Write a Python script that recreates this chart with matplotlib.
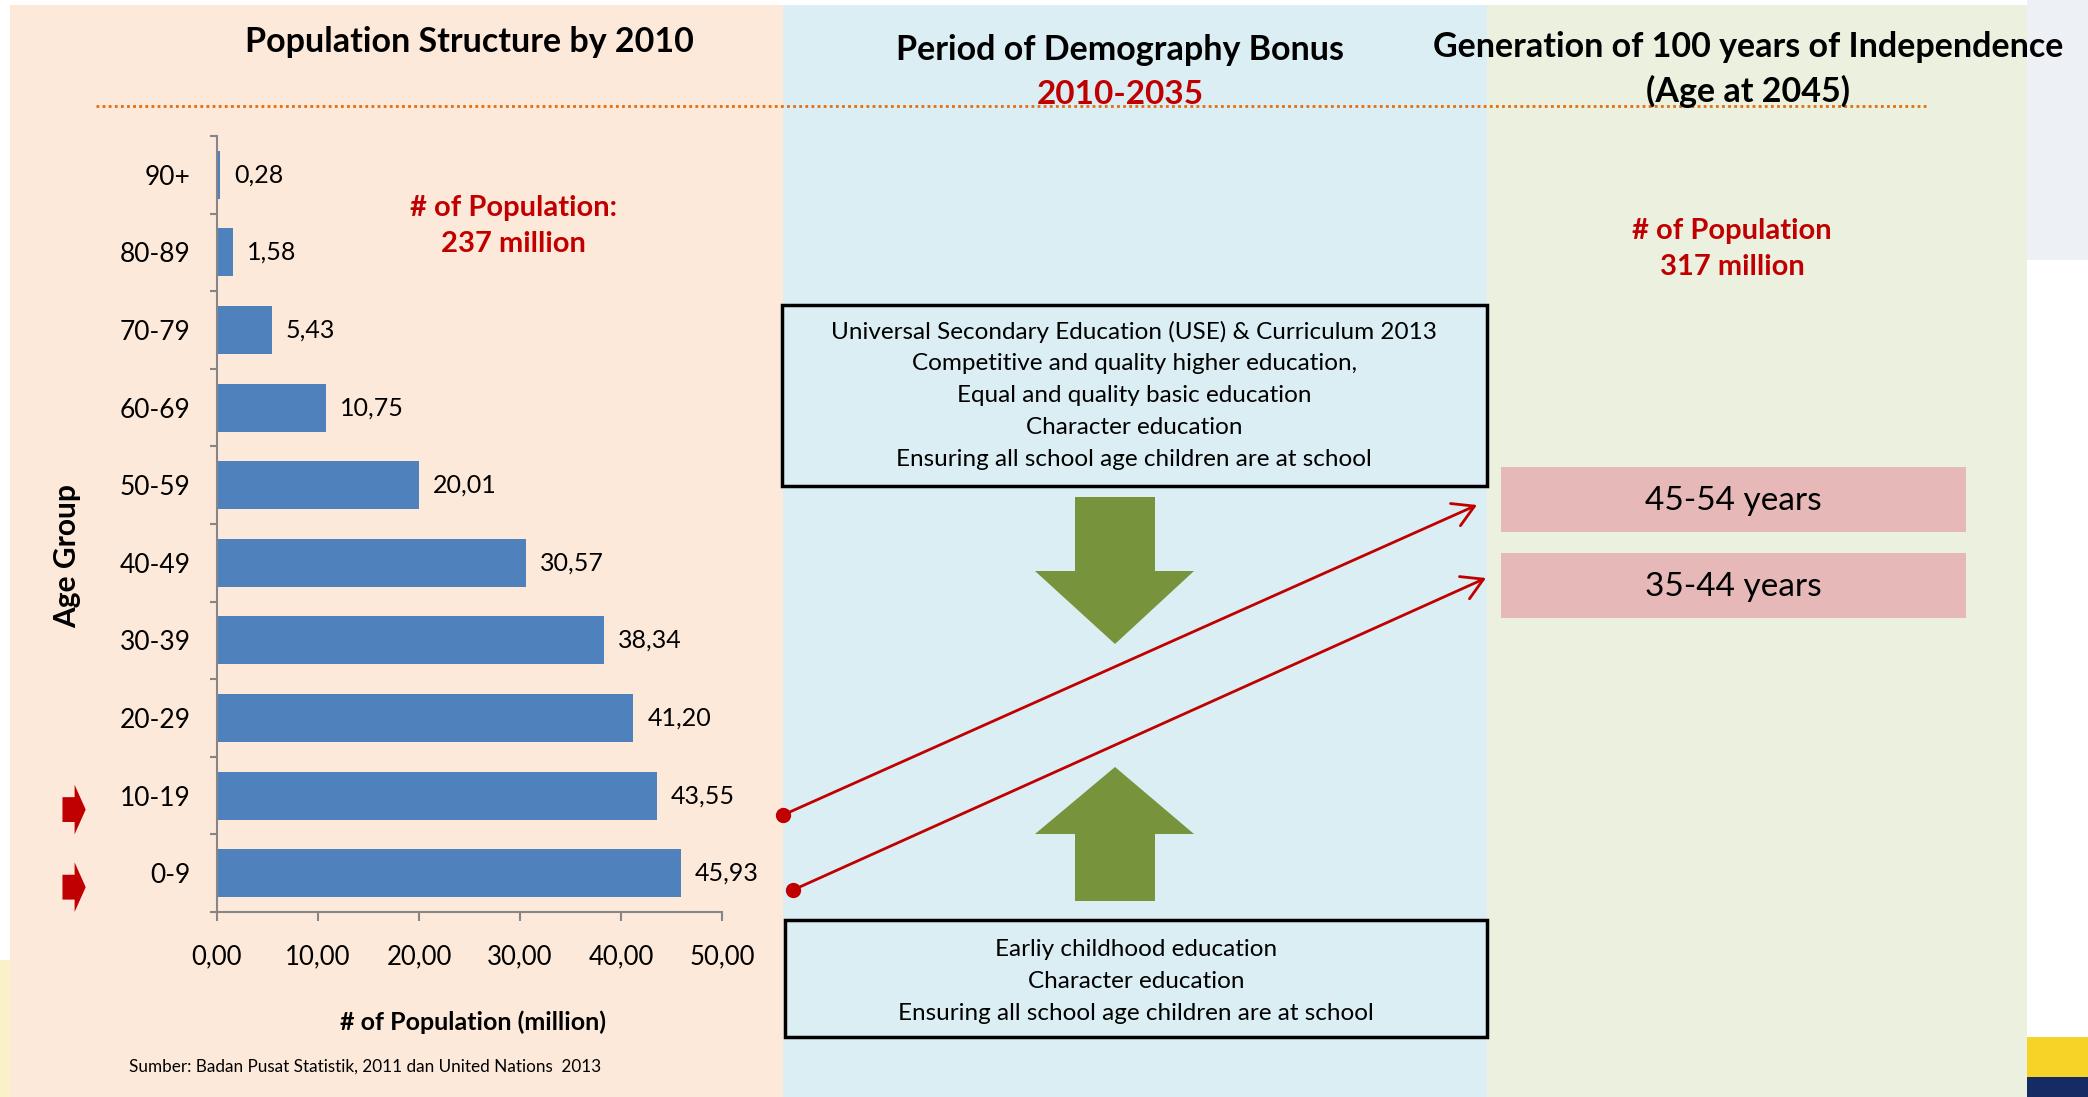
import numpy as np
import matplotlib.pyplot as plt
from matplotlib.patches import Rectangle, Polygon
from matplotlib.ticker import FuncFormatter

plt.rcParams['font.family'] = ['Lato', 'DejaVu Sans']

# data
age_groups = ['0-9', '10-19', '20-29', '30-39', '40-49', '50-59', '60-69', '70-79', '80-89', '90+']
population = [45.93, 43.55, 41.20, 38.34, 30.57, 20.01, 10.75, 5.43, 1.58, 0.28]
x_ticks = [0, 10, 20, 30, 40, 50]
highlight_groups = ['10-19', '0-9']
future_groups = ['45-54 years', '35-44 years']

upper_box_lines = ['Universal Secondary Education (USE) & Curriculum 2013',
                   'Competitive and quality higher education,',
                   'Equal and quality basic education',
                   'Character education',
                   'Ensuring all school age children are at school']
lower_box_lines = ['Earliy childhood education',
                   'Character education',
                   'Ensuring all school age children are at school']

W, H = 2088, 1097
RED = '#C00000'
GREEN = '#77933C'

fig = plt.figure(figsize=(W / 100, H / 100), dpi=100)

# background layer in pixel coords (y down)
bg = fig.add_axes([0, 0, 1, 1])
bg.set_xlim(0, W)
bg.set_ylim(H, 0)
bg.axis('off')

# side decoration
bg.add_patch(Rectangle((2027, 0), 61, 260, color='#EDF0F5', lw=0))
bg.add_patch(Rectangle((2027, 1037), 61, 40, color='#F5D327', lw=0))
bg.add_patch(Rectangle((2027, 1077), 61, 20, color='#162B63', lw=0))
bg.add_patch(Rectangle((0, 960), 10, 137, color='#FBF1C8', lw=0))

# three panels
bg.add_patch(Rectangle((10, 5), 773, 1092, color='#FDE9DA', lw=0))
bg.add_patch(Rectangle((783, 5), 704, 1092, color='#DBEEF3', lw=0))
bg.add_patch(Rectangle((1487, 5), 540, 1092, color='#EBF0DF', lw=0))

# dotted separator
bg.plot([96, 1928], [106, 106], ls=(0, (1, 1.2)), color='#E46C0A', lw=2)

# titles
bg.text(469, 42, 'Population Structure by 2010', ha='center', va='center',
        fontsize=24.5, fontweight='bold')
bg.text(1120, 50, 'Period of Demography Bonus', ha='center', va='center',
        fontsize=24.5, fontweight='bold')
bg.text(1120, 94, '2010-2035', ha='center', va='center',
        fontsize=24, fontweight='bold', color=RED)
bg.text(1748, 47, 'Generation of 100 years of Independence', ha='center', va='center',
        fontsize=24.5, fontweight='bold')
bg.text(1748, 91, '(Age at 2045)', ha='center', va='center',
        fontsize=24.5, fontweight='bold')

# totals
bg.text(513, 226, '# of Population:\n237 million', ha='center', va='center',
        fontsize=21, fontweight='bold', color=RED, linespacing=1.45)
bg.text(1732, 249, '# of Population\n317 million', ha='center', va='center',
        fontsize=21, fontweight='bold', color=RED, linespacing=1.45)

# education boxes
bg.add_patch(Rectangle((782, 305), 705, 181, fill=False, ec='black', lw=2.5))
for i, line in enumerate(upper_box_lines):
    bg.text(1134, 332 + 32 * i, line, ha='center', va='center', fontsize=17.5)
bg.add_patch(Rectangle((785, 920), 702, 117, fill=False, ec='black', lw=2.5))
for i, line in enumerate(lower_box_lines):
    bg.text(1136, 949 + 32 * i, line, ha='center', va='center', fontsize=17.5)

# green arrows
bg.add_patch(Polygon([(1075, 497), (1155, 497), (1155, 571), (1194, 571), (1115, 644),
                      (1035, 571), (1075, 571)], closed=True, color=GREEN, lw=0))
bg.add_patch(Polygon([(1115, 767), (1194, 834), (1155, 834), (1155, 901), (1075, 901),
                      (1075, 834), (1035, 834)], closed=True, color=GREEN, lw=0))

# age groups in 2045
for i, g in enumerate(future_groups):
    y0 = 467 + 86 * i
    bg.add_patch(Rectangle((1501, y0), 465, 65, color='#E6B8B7', lw=0))
    bg.text(1733, y0 + 34, g, ha='center', va='center', fontsize=24)

# red connectors
starts = [(783, 815), (793, 890)]
ends = [(1477, 505), (1486, 578)]
for (x0, y0), (x1, y1) in zip(starts, ends):
    bg.annotate('', xy=(x1, y1), xytext=(x0, y0),
                arrowprops=dict(arrowstyle='->, head_length=0.6, head_width=0.35',
                                color=RED, lw=2, mutation_scale=25, shrinkA=0, shrinkB=0))
    bg.plot(x0, y0, 'o', color=RED, ms=10)

bg.text(129, 1067, 'Sumber: Badan Pusat Statistik, 2011 dan United Nations  2013',
        ha='left', va='center', fontsize=12.3)

# bar chart
ax = fig.add_axes([217 / W, 1 - 912 / H, (722 - 217) / W, (912 - 136) / H])
ax.set_facecolor('none')
pos = np.arange(len(age_groups))
ax.barh(pos, population, height=0.62, color='#4F81BD')
for p, v in zip(pos, population):
    ax.text(v + 1.4, p, f'{v:.2f}'.replace('.', ','), va='center', ha='left', fontsize=18)

ax.set_xlim(0, 50)
ax.set_ylim(-0.5, len(age_groups) - 0.5)
ax.set_xticks(x_ticks)
ax.xaxis.set_major_formatter(FuncFormatter(lambda v, p: f'{v:.2f}'.replace('.', ',')))
ax.set_yticks(pos)
ax.set_yticklabels(age_groups)
ax.set_yticks(np.arange(-0.5, len(age_groups), 1), minor=True)
ax.tick_params(axis='y', which='major', length=0, pad=19, labelsize=19)
ax.tick_params(axis='y', which='minor', length=5, width=1.5, color='#868686')
ax.tick_params(axis='x', length=6.5, width=1.5, color='#868686', pad=17, labelsize=18.5)
for s in ['top', 'right']:
    ax.spines[s].set_visible(False)
for s in ['left', 'bottom']:
    ax.spines[s].set_color('#868686')
    ax.spines[s].set_linewidth(1.5)

ax.set_xlabel('# of Population (million)', fontsize=18, fontweight='bold', va='center')
ax.xaxis.set_label_coords((473 - 217) / 505, (912 - 1022) / 776)
ax.set_ylabel('Age Group', fontsize=21.5, fontweight='bold', va='center')
ax.yaxis.set_label_coords((67 - 217) / 505, (912 - 556) / 776)

# red pointers at highlighted groups
for g in highlight_groups:
    y = age_groups.index(g) - 0.18
    ax.add_patch(Polygon([(-15.3, y - 0.16), (-14.1, y - 0.16), (-14.1, y - 0.32), (-13.0, y),
                          (-14.1, y + 0.32), (-14.1, y + 0.16), (-15.3, y + 0.16)],
                         closed=True, color=RED, lw=0, clip_on=False))

fig.savefig('out.png', dpi=100)
